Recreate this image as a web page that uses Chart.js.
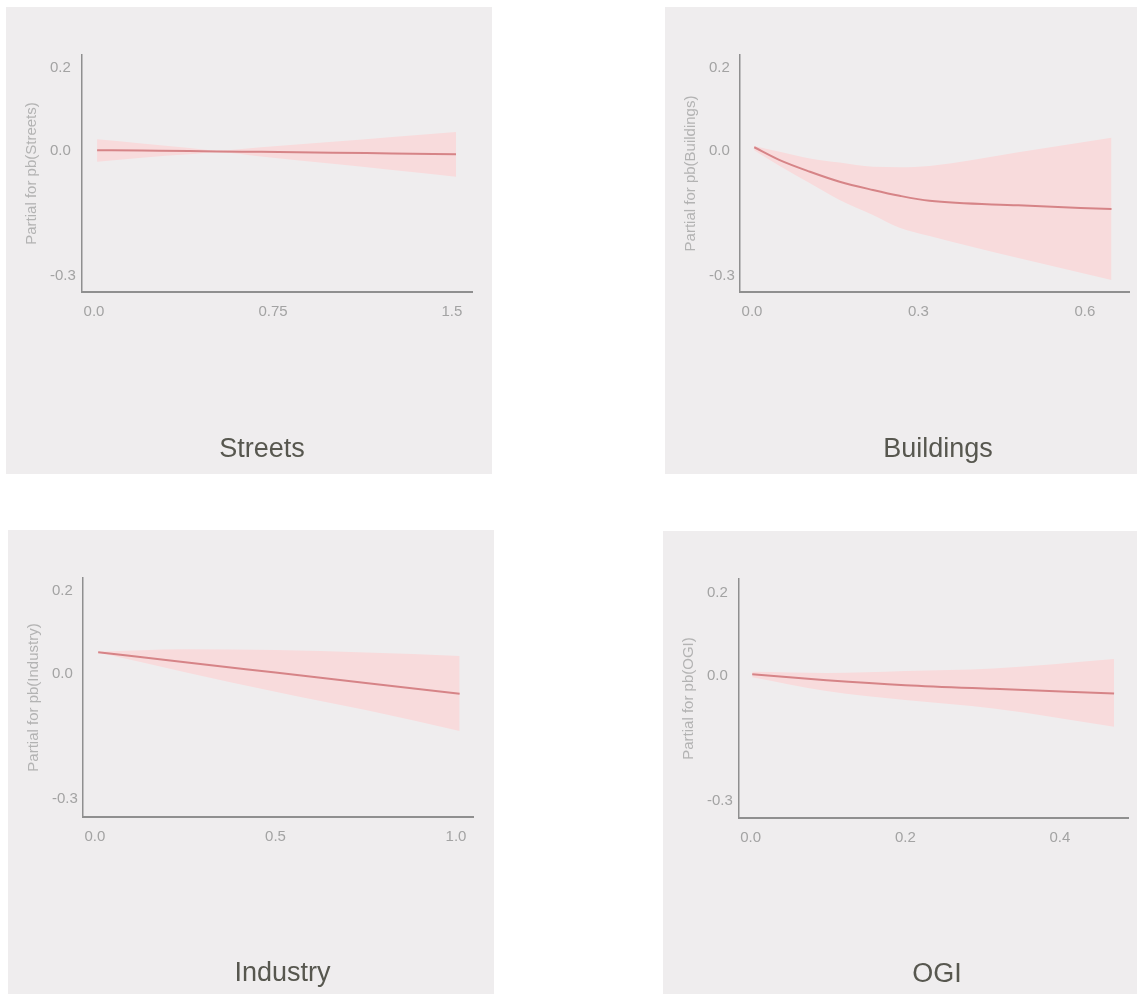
<!DOCTYPE html>
<html>
<head>
<meta charset="utf-8">
<title>Partial effects of land-use shares</title>
<script src="https://cdn.jsdelivr.net/npm/chart.js@4"></script>
<style>
  html, body { margin: 0; padding: 0; background: #ffffff; }
  body { width: 1139px; height: 994px; position: relative; overflow: hidden; }
  .panel { position: absolute; background: #efedee; }
  .panel canvas { position: absolute; left: 0; top: 0; }
  .name {
    position: absolute; width: 240px; text-align: center;
    font-family: "Liberation Sans", Arial, sans-serif; font-size: 27px; line-height: 27px;
    color: #57574f;
  }
</style>
</head>
<body>
<script>
// Shared y axis (partial effect) ticks
const yTicks = [-0.3, 0.0, 0.2];

// Streets
const streetsX     = [0.013, 0.2, 0.4, 0.515, 0.7, 1.0, 1.25, 1.517];
const streetsFit   = [0.002, 0.001, 0.0, -0.001, -0.002, -0.004, -0.006, -0.008];
const streetsUpper = [0.028, 0.018, 0.007, 0.001, 0.009, 0.022, 0.034, 0.046];
const streetsLower = [-0.026, -0.016, -0.008, -0.003, -0.013, -0.031, -0.046, -0.062];
const streetsTicks = [0.0, 0.75, 1.5];
const streetsTickLabels = ["0.0", "0.75", "1.5"];

// Buildings
const buildingsX     = [0.004, 0.05, 0.1045, 0.158, 0.218, 0.266, 0.32, 0.48, 0.648];
const buildingsFit   = [0.009, -0.022, -0.050, -0.074, -0.094, -0.108, -0.120, -0.131, -0.140];
const buildingsUpper = [0.012, -0.002, -0.018, -0.028, -0.038, -0.039, -0.036, -0.003, 0.032];
const buildingsLower = [0.002, -0.036, -0.078, -0.118, -0.154, -0.185, -0.205, -0.258, -0.311];
const buildingsTicks = [0.0, 0.3, 0.6];
const buildingsTickLabels = ["0.0", "0.3", "0.6"];

// Industry
const industryX     = [0.009, 0.25, 0.5, 0.75, 1.01];
const industryFit   = [0.053, 0.029, 0.004, -0.021, -0.047];
const industryUpper = [0.054, 0.060, 0.058, 0.052, 0.044];
const industryLower = [0.052, 0.005, -0.042, -0.086, -0.136];
const industryTicks = [0.0, 0.5, 1.0];
const industryTickLabels = ["0.0", "0.5", "1.0"];

// OGI
const ogiX     = [0.002, 0.098, 0.2, 0.314, 0.470];
const ogiFit   = [0.004, -0.010, -0.022, -0.031, -0.042];
const ogiUpper = [0.010, 0.007, 0.012, 0.018, 0.041];
const ogiLower = [-0.003, -0.036, -0.058, -0.078, -0.122];
const ogiTicks = [0.0, 0.2, 0.4];
const ogiTickLabels = ["0.0", "0.2", "0.4"];

const LINE = '#d68487';
const BAND = '#f8dbdc';
const AXIS = '#8f8f8f';
const TICK = '#a3a3a3';
const YTITLE = '#b3b3b3';
const FONT = '"Liberation Sans", Arial, sans-serif';

const panels = [
  { name: 'Streets', ytitle: 'Partial for pb(Streets)', x: streetsX, fit: streetsFit, upper: streetsUpper, lower: streetsLower,
    ticks: streetsTicks, labels: streetsTickLabels, xmin: -0.0503, xmax: 1.584, ymin: -0.3398, ymax: 0.2313,
    box: { left: 6, top: 7, w: 486, h: 467 }, area: { left: 76, top: 48, right: 466, bottom: 285 }, nameAt: [262, 448.5] },
  { name: 'Buildings', ytitle: 'Partial for pb(Buildings)', x: buildingsX, fit: buildingsFit, upper: buildingsUpper, lower: buildingsLower,
    ticks: buildingsTicks, labels: buildingsTickLabels, xmin: -0.0216, xmax: 0.6795, ymin: -0.3398, ymax: 0.2313,
    box: { left: 665, top: 7, w: 472, h: 467 }, area: { left: 75, top: 48, right: 464, bottom: 285 }, nameAt: [938, 448.5] },
  { name: 'Industry', ytitle: 'Partial for pb(Industry)', x: industryX, fit: industryFit, upper: industryUpper, lower: industryLower,
    ticks: industryTicks, labels: industryTickLabels, xmin: -0.033, xmax: 1.047, ymin: -0.3425, ymax: 0.231,
    box: { left: 8, top: 530, w: 486, h: 464 }, area: { left: 75, top: 48, right: 465, bottom: 287 }, nameAt: [282.5, 972.5] },
  { name: 'OGI', ytitle: 'Partial for pb(OGI)', x: ogiX, fit: ogiFit, upper: ogiUpper, lower: ogiLower,
    ticks: ogiTicks, labels: ogiTickLabels, xmin: -0.0151, xmax: 0.488, ymin: -0.342, ymax: 0.2336,
    box: { left: 663, top: 531, w: 474, h: 463 }, area: { left: 76, top: 48, right: 465, bottom: 287 }, nameAt: [937, 973.5] }
];

const pts = (xs, ys) => xs.map((x, i) => ({ x: x, y: ys[i] }));

const LABEL_LEFT = 44;   // left edge of the y tick labels inside a panel
const XAXIS_H = 40;      // height of the x axis box

panels.forEach(p => {
  const div = document.createElement('div');
  div.className = 'panel';
  Object.assign(div.style, { left: p.box.left + 'px', top: p.box.top + 'px', width: p.box.w + 'px', height: p.box.h + 'px' });
  const cv = document.createElement('canvas');
  cv.width = p.box.w; cv.height = p.box.h;
  cv.style.width = p.box.w + 'px'; cv.style.height = p.box.h + 'px';
  div.appendChild(cv);
  document.body.appendChild(div);

  const name = document.createElement('div');
  name.className = 'name';
  name.textContent = p.name;
  name.style.left = (p.nameAt[0] - 120) + 'px';
  name.style.top = (p.nameAt[1] - 13.2) + 'px';
  document.body.appendChild(name);

  const smooth = { cubicInterpolationMode: 'monotone', pointRadius: 0 };

  new Chart(cv, {
    type: 'line',
    data: {
      datasets: [
        Object.assign({ data: pts(p.x, p.fit), borderColor: LINE, borderWidth: 2, fill: false }, smooth),
        Object.assign({ data: pts(p.x, p.upper), borderWidth: 0, borderColor: 'rgba(0,0,0,0)', fill: '+1', backgroundColor: BAND }, smooth),
        Object.assign({ data: pts(p.x, p.lower), borderWidth: 0, borderColor: 'rgba(0,0,0,0)', fill: false }, smooth)
      ]
    },
    options: {
      responsive: false,
      animation: false,
      events: [],
      layout: { padding: { top: p.area.top, left: 0, right: p.box.w - p.area.right, bottom: p.box.h - p.area.bottom - XAXIS_H } },
      plugins: {
        legend: { display: false },
        tooltip: { enabled: false },
        title: {
          display: true, position: 'left', fullSize: false, text: p.ytitle, color: YTITLE,
          font: { family: FONT, size: 15, weight: 'normal', lineHeight: 1.2 },
          padding: { top: 17, bottom: LABEL_LEFT - 17 - 18 }
        }
      },
      scales: {
        x: {
          type: 'linear', min: p.xmin, max: p.xmax,
          grid: { display: false, drawTicks: false },
          border: { display: true, color: AXIS, width: 2 },
          afterBuildTicks: s => { s.ticks = p.ticks.map(v => ({ value: v })); },
          afterFit: s => { s.height = XAXIS_H; },
          ticks: {
            padding: 11, color: TICK, font: { family: FONT, size: 15 },
            maxRotation: 0, autoSkip: false,
            callback: (v) => p.labels[p.ticks.indexOf(v)]
          }
        },
        y: {
          type: 'linear', min: p.ymin, max: p.ymax,
          grid: { display: false, drawTicks: false },
          border: { display: true, color: AXIS, width: 1.5 },
          afterBuildTicks: s => { s.ticks = yTicks.map(v => ({ value: v })); },
          afterFit: s => { s.width = p.area.left - LABEL_LEFT; },
          ticks: {
            crossAlign: 'far', color: TICK, font: { family: FONT, size: 15 },
            autoSkip: false,
            callback: v => v.toFixed(1)
          }
        }
      }
    }
  });
});
</script>
</body>
</html>
